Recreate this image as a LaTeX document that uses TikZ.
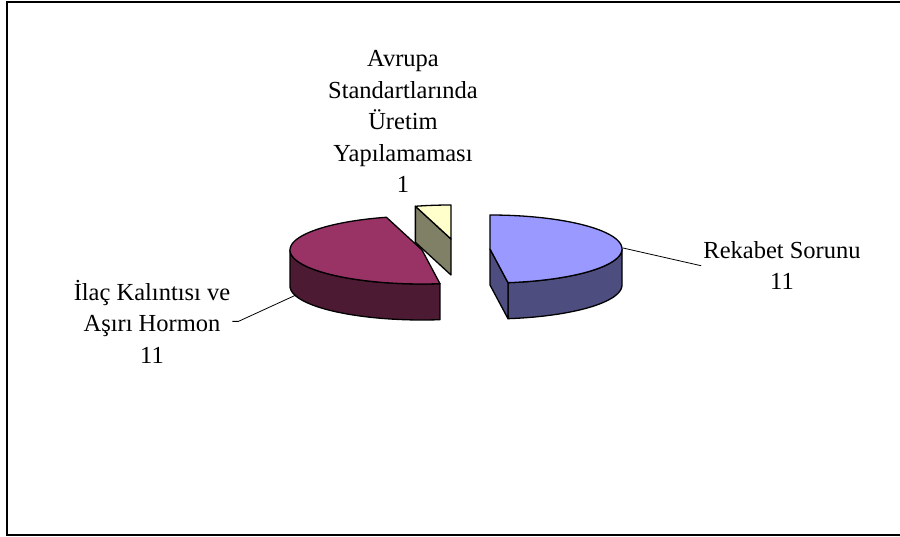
\documentclass[tikz,border=0pt]{standalone}
\usepackage{fontspec}
\setmainfont{Liberation Serif}
\definecolor{bluetop}{HTML}{9999FF}
\definecolor{blueside}{HTML}{4D4D80}
\definecolor{maroontop}{HTML}{993366}
\definecolor{maroonside}{HTML}{4D1A33}
\definecolor{creamtop}{HTML}{FFFFCC}
\definecolor{oliveside}{HTML}{808066}
\begin{document}
\begin{tikzpicture}[x=1pt,y=-1pt,
  facet/.style={draw=black, line width=1.3pt, line join=round},
  leader/.style={draw=black, line width=0.8pt},
  frame/.style={draw=black, line width=2pt},
  lbl/.style={font=\fontsize{24.5}{31.5}\selectfont, align=center, inner sep=2pt, anchor=base}]
\useasboundingbox (0,0) rectangle (900,537);
% chart frame (right side runs past the page)
\draw[frame] (910,2) -- (7,2) -- (7,534.5) -- (910,534.5);

% ellipse half axes and slice thickness
\def\ra{132}\def\rb{34}\def\dep{36}

% --- small slice: 344.35 to 360 deg, pushed back
\draw[facet, fill=oliveside] (451,239) -- ({451+\ra*sin(344.35)},{239-\rb*cos(344.35)})
  -- ++(0,\dep) -- (451,275) -- cycle;
\draw[facet, fill=creamtop] (451,239) -- plot[domain=344.35:360, samples=8]
  ({451+\ra*sin(\x)},{239-\rb*cos(\x)}) -- cycle;

% --- left slice: 172.17 to 344.35 deg
\draw[facet, fill=maroonside] plot[domain=172.17:270, samples=40]
  ({422+\ra*sin(\x)},{250-\rb*cos(\x)})
  -- plot[domain=270:172.17, samples=40] ({422+\ra*sin(\x)},{250+\dep-\rb*cos(\x)}) -- cycle;
\draw[facet, fill=maroontop] (422,250) -- plot[domain=172.17:344.35, samples=60]
  ({422+\ra*sin(\x)},{250-\rb*cos(\x)}) -- cycle;

% --- right slice: 0 to 172.17 deg
\draw[facet, fill=blueside] plot[domain=90:172.17, samples=30]
  ({490+\ra*sin(\x)},{249-\rb*cos(\x)})
  -- plot[domain=172.17:90, samples=30] ({490+\ra*sin(\x)},{249+\dep-\rb*cos(\x)}) -- cycle;
\draw[facet, fill=blueside] (490,249) -- ({490+\ra*sin(172.17)},{249-\rb*cos(172.17)})
  -- ++(0,\dep) -- (490,285) -- cycle;
\draw[facet, fill=bluetop] (490,249) -- plot[domain=0:172.17, samples=60]
  ({490+\ra*sin(\x)},{249-\rb*cos(\x)}) -- cycle;

% labels (base anchor sits on the last line)
\node[lbl] (avr) at (403,193) {Avrupa\\Standartlarında\\Üretim\\Yapılamaması\\1};
\node[lbl] (rek) at (782,290) {Rekabet Sorunu\\11};
\node[lbl] (ila) at (152,363) {İlaç Kalıntısı ve\\Aşırı Hormon\\11};

% leader lines
\coordinate (rekTip) at (623,248);
\coordinate (ilaTip) at (296,295);
\draw[leader] (rekTip) -- (rek.west);
\draw[leader] (ila.east) -- ++(6,0) -- (ilaTip);
\end{tikzpicture}
\end{document}
